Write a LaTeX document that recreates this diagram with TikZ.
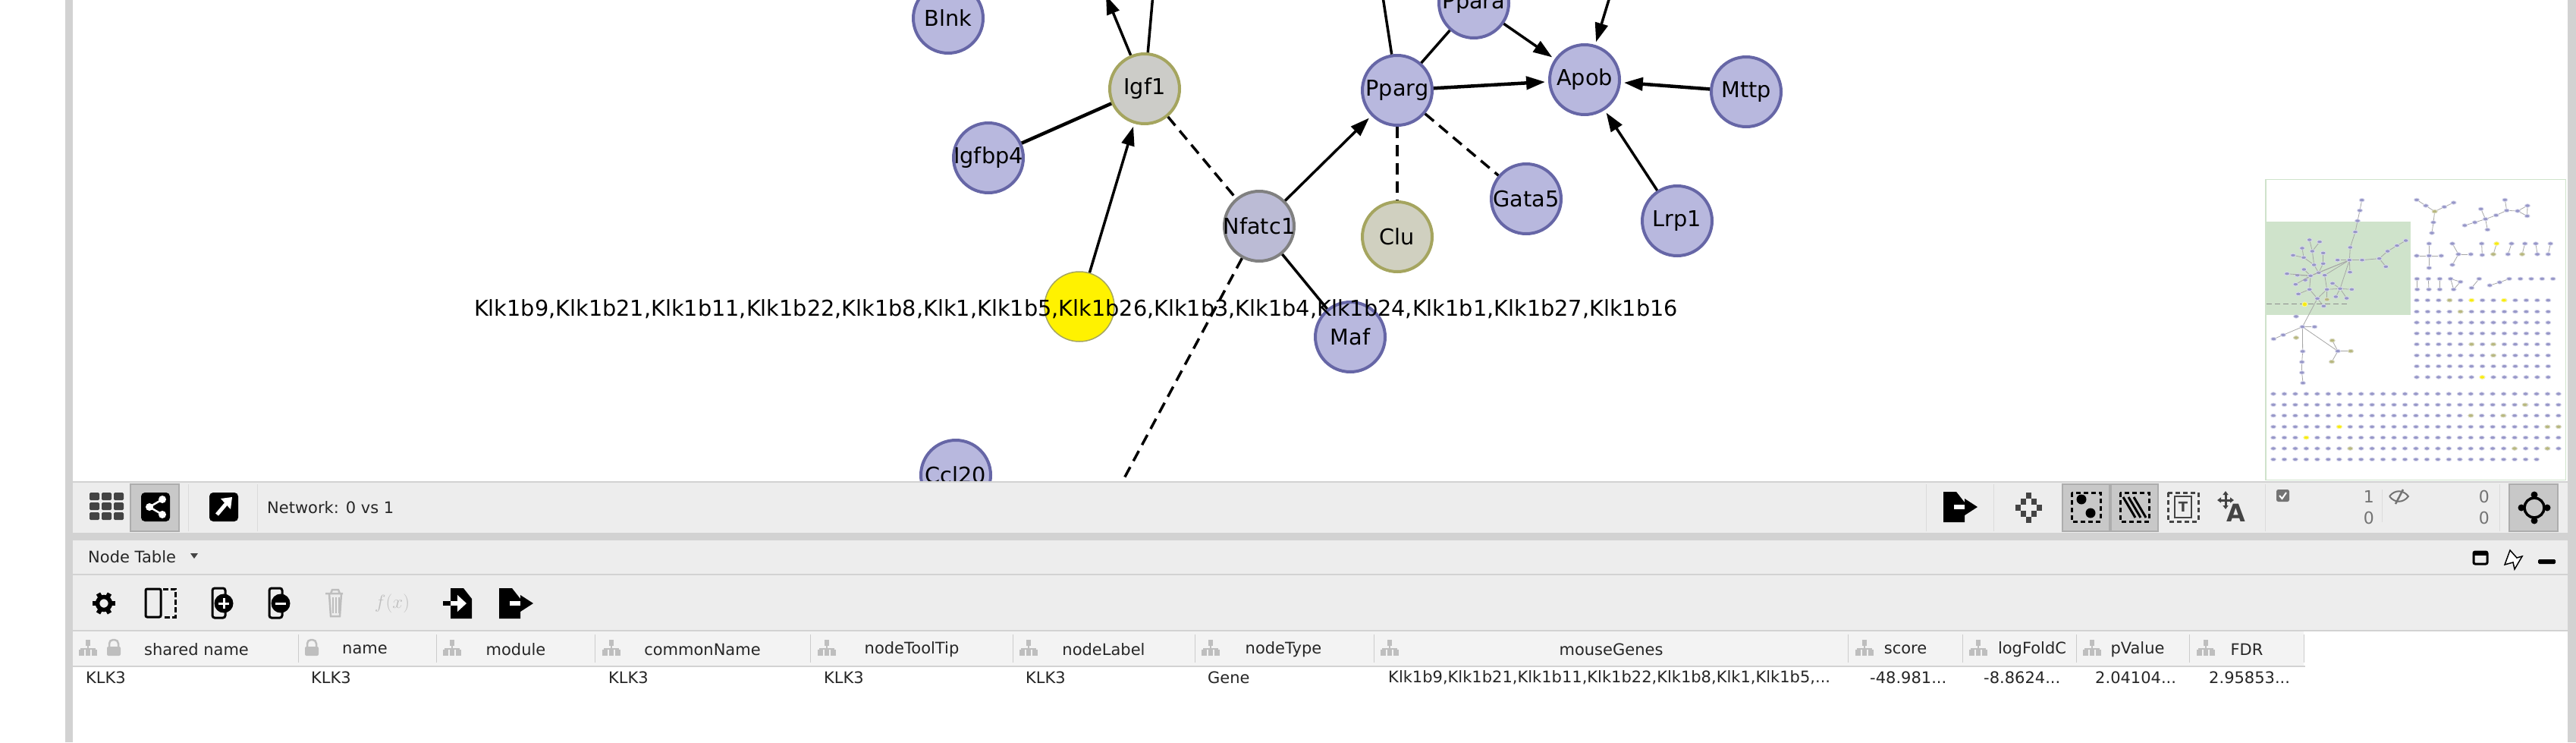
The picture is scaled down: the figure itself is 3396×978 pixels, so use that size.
\documentclass[tikz,border=0pt]{standalone}
\usepackage{fontspec}
\setmainfont{DejaVu Sans}
\definecolor{genefill}{RGB}{184, 184, 222}
\definecolor{genedraw}{RGB}{102, 102, 166}
\definecolor{olivedraw}{RGB}{165, 165, 95}
\definecolor{panelgris}{RGB}{237, 237, 237}
\definecolor{linegris}{RGB}{210, 210, 210}
\definecolor{btngris}{RGB}{200, 200, 200}
\definecolor{headgris}{RGB}{243, 243, 243}
\definecolor{icongris}{RGB}{68, 68, 68}
\definecolor{paleicon}{RGB}{190, 190, 190}
\definecolor{mapgreen}{RGB}{207, 227, 203}
\usetikzlibrary{arrows.meta, shapes.geometric}

\begin{document}
\begin{tikzpicture}[x=1pt, y=-1pt,
  gene/.style={circle, draw=genedraw, fill=genefill, line width=4pt, minimum size=92pt, inner sep=-12pt, font=\fontsize{28.75}{30}\selectfont},
  tiltgene/.style={gene, draw=olivedraw, fill={rgb,255:red,204;green,204;blue,200}},
  clugene/.style={gene, draw=olivedraw, fill={rgb,255:red,208;green,208;blue,192}},
  hitgene/.style={gene, draw=olivedraw, fill=yellow, line width=1.5pt},
  link/.style={line width=3.5pt},
  heavy/.style={line width=4.5pt},
  dashline/.style={line width=3.5pt, dash pattern=on 15pt off 9pt},
  arrow/.style={-{Triangle[length=25pt,width=17pt]}, shorten >=4pt},
  ui/.style={font=\fontsize{21}{24}\selectfont, inner sep=0pt, anchor=west, text=black!85},
  colhead/.style={ui, anchor=center},
  counter/.style={font=\fontsize{22}{24}\selectfont, inner sep=0pt, anchor=east, text=black!55},
  btn/.style={fill=btngris, draw=black!32, line width=1.5pt},
  barsep/.style={draw=black!14, line width=1pt},
  mini/.style={ellipse, fill=genefill!60!genedraw, draw=genefill!50, line width=0.8pt, minimum width=7pt, minimum height=4.5pt, inner sep=0pt},
  minihit/.style={mini, fill=yellow!90!olivedraw, draw=yellow!40},
  miniolive/.style={mini, fill=olivedraw!80, draw=olivedraw!35},
  minilink/.style={draw=black!35, line width=0.8pt},
  hier/.pic={
    \fill[paleicon] (-3,-11) rectangle (3,-3);
    \fill[paleicon] (-1,-3) rectangle (1,1);
    \fill[paleicon] (-10,0) rectangle (10,2);
    \fill[paleicon] (-12,2) rectangle (-5,10);
    \fill[paleicon] (-3,2) rectangle (3,10);
    \fill[paleicon] (5,2) rectangle (12,10);
  },
  lockicon/.pic={
    \fill[paleicon, rounded corners=2pt] (-9,-2) rectangle (9,10);
    \draw[paleicon, line width=2.5pt, rounded corners=5pt] (-6,-2) -- (-6,-11) -- (6,-11) -- (6,-2);
  },
  fileicon/.pic={
    \fill (-14,-20) -- (3,-20) -- (14,-6) -- (14,20) -- (-14,20) -- cycle;
  }
]
  \useasboundingbox (0,0) rectangle (3396,978);
  \clip (0,0) rectangle (3396,978);

  % network
  \node[gene] (blnk) at (1250,24) {Blnk};
  \node[tiltgene] (igf1) at (1509,117) {Igf1};
  \node[gene] (igfbp4) at (1303,208) {Igfbp4};
  \node[hitgene] (klk3) at (1423,404) {};
  \node[gene, draw=black!50, fill={rgb,255:red,187;green,187;blue,213}] (nfatc1) at (1660,298) {Nfatc1};
  \node[gene] (pparg) at (1842,119) {Pparg};
  \node[gene] (ppara) at (1943,4) {Ppara};
  \node[gene] (apob) at (2089,105) {Apob};
  \node[gene] (mttp) at (2302,121) {Mttp};
  \node[gene] (lrp1) at (2211,291) {Lrp1};
  \node[gene] (gata5) at (2012,262) {Gata5};
  \node[clugene] (clu) at (1842,312) {Clu};
  \node[gene] (maf) at (1780,444) {Maf};
  \node[gene] (ccl20) at (1260,626) {Ccl20};

  \coordinate (upblnk) at (1325,-25);
  \coordinate (upleft) at (1458,-6);
  \coordinate (upright) at (1522,-30);
  \coordinate (uppparg) at (1819,-30);
  \coordinate (upapob) at (2130,-30);
  \coordinate (downnfat) at (1466,660);

  \draw[link, arrow] (upblnk) -- (blnk);
  \draw[link, -{Triangle[length=25pt,width=17pt]}] (igf1) -- (upleft);
  \draw[link] (igf1) -- (upright);
  \draw[heavy] (igfbp4) -- (igf1);
  \draw[link, arrow] (klk3) -- (igf1);
  \draw[dashline] (igf1) -- (nfatc1);
  \draw[link, arrow] (nfatc1) -- (pparg);
  \draw[link] (pparg) -- (uppparg);
  \draw[link] (pparg) -- (ppara);
  \draw[link, arrow] (ppara) -- (apob);
  \draw[heavy, arrow] (pparg) -- (apob);
  \draw[link, arrow] (upapob) -- (apob);
  \draw[heavy, arrow] (mttp) -- (apob);
  \draw[link, arrow] (lrp1) -- (apob);
  \draw[dashline] (pparg) -- (gata5);
  \draw[dashline] (pparg) -- (clu);
  \draw[link] (nfatc1) -- (maf);
  \draw[dashline] (nfatc1) -- (downnfat);

  \node[inner sep=0pt, font=\fontsize{28.75}{30}\selectfont] (klklabel) at (1418.5,407) {Klk1b9,Klk1b21,Klk1b11,Klk1b22,Klk1b8,Klk1,Klk1b5,Klk1b26,Klk1b3,Klk1b4,Klk1b24,Klk1b1,Klk1b27,Klk1b16};

  % panels
  \fill[linegris] (86,0) rectangle (96,978);
  \fill[linegris] (3385,0) rectangle (3396,978);
  \fill[panelgris] (96,634) rectangle (3385,832);
  \fill[linegris] (96,634) rectangle (3385,636);
  \fill[linegris] (96,702) rectangle (3385,712);
  \fill[linegris] (96,756) rectangle (3385,758);
  \fill[linegris] (96,830) rectangle (3385,832);
  \fill[headgris] (96,832) rectangle (3037,877);
  \fill[linegris] (96,877) rectangle (3039,879);
  \fill[white] (96,879) rectangle (3385,978);

  % lower left toolbar
  \foreach \i in {0,1,2}
    \foreach \j in {0,1,2}
      \fill[icongris, rounded corners=1.5pt] (118+\i*16,649+\j*13) rectangle +(13,10);
  \draw[btn] (172,638) rectangle (236,700);
  \fill[rounded corners=5pt] (186,649) rectangle (224,687);
  \draw[white, line width=2.5pt] (214,658) -- (197,668) -- (214,678);
  \fill[white] (214,658) circle (5) (197,668) circle (5) (214,678) circle (5);
  \draw[barsep] (248,638) -- (248,700);
  \fill[rounded corners=5pt] (276,649) rectangle (314,687);
  \draw[white, line width=5pt] (286,678) -- (303,658);
  \fill[white] (291,657) -- (306,655) -- (304,671) -- cycle;
  \draw[barsep] (339,638) -- (339,700);
  \node[ui] (netname) at (352,669) {Network: 0 vs 1};

  % lower right toolbar
  \draw[barsep] (2539,638) -- (2539,700);
  \pic at (2576,668) {fileicon};
  \fill[white] (2576,665) rectangle (2590,671);
  \fill (2590,657) -- (2607,668) -- (2590,679) -- cycle;
  \draw[barsep] (2628,638) -- (2628,700);
  \foreach \dx/\dy in {0/-16,-7/-8,7/-8,-14/0,14/0,-7/8,7/8,0/16}
    \fill[icongris] (2674+\dx-3.5,669+\dy-4) rectangle +(7,8);
  \draw[btn] (2719,638) rectangle (2781,700);
  \draw[btn] (2783,638) rectangle (2845,700);
  \draw[line width=3pt, dash pattern=on 6pt off 4pt] (2731,649) rectangle (2769,687);
  \fill (2744,658) circle (6.5) (2756,676) circle (6.5);
  \draw[line width=3pt, dash pattern=on 6pt off 4pt] (2795,649) rectangle (2833,687);
  \foreach \dx in {-7,0,7}
    \draw[line width=3pt] (2806+\dx,655) -- (2822+\dx,682);
  \draw[icongris, line width=3pt, dash pattern=on 6pt off 4pt] (2858,649) rectangle (2898,687);
  \node[draw=icongris, line width=2pt, inner sep=1pt, minimum width=22pt, minimum height=28pt, font=\fontsize{18}{20}\selectfont\bfseries, text=icongris] (ticon) at (2878,668) {T};
  \node[inner sep=0pt, font=\fontsize{32}{32}\selectfont\bfseries, text=icongris] (aicon) at (2948,676) {A};
  \draw[icongris, line width=3pt, {Triangle[length=5pt,width=7pt]}-{Triangle[length=5pt,width=7pt]}] (2934,647) -- (2934,671);
  \draw[icongris, line width=3pt, {Triangle[length=5pt,width=7pt]}-{Triangle[length=5pt,width=7pt]}] (2923,659) -- (2945,659);
  \draw[barsep] (2986,638) -- (2986,700);
  \fill[black!55, rounded corners=2.5pt] (3001,645) rectangle (3018,661);
  \draw[white, line width=2pt] (3005,653) -- (3008.5,657) -- (3014,649);
  \node[counter] (selone) at (3130,654) {1};
  \node[counter] (selzero) at (3130,682) {0};
  \draw[barsep] (3140,645) -- (3140,688);
  \draw[black!55, line width=2pt] (3150,654) .. controls (3157,645) and (3168,645) .. (3175,654) .. controls (3168,663) and (3157,663) .. (3150,654);
  \draw[black!55, line width=2.5pt] (3168,645) -- (3158,664);
  \node[counter] (hidone) at (3282,654) {0};
  \node[counter] (hidzero) at (3282,682) {0};
  \draw[barsep] (3295,638) -- (3295,700);
  \draw[btn] (3308,638) rectangle (3372,700);
  \draw[line width=3.5pt] (3341,669) circle (13);
  \fill (3341,652) circle (4.5) (3341,686) circle (4.5) (3324,669) circle (4.5) (3358,669) circle (4.5);

  % node table bar
  \node[ui] (tabletitle) at (116,734) {Node Table};
  \fill[icongris] (251,729) -- (261,729) -- (256,736) -- cycle;
  \draw[line width=3pt, rounded corners=2pt] (3261,727) rectangle (3279,743);
  \fill (3261,727) rectangle (3279,732);
  \draw[line width=1.5pt, fill=white] (3309,725) -- (3318,735) -- (3325,733) -- (3315,750) -- (3313,741) -- (3302,744) -- cycle;
  \fill[rounded corners=1.5pt] (3346,737) rectangle (3369,743);

  % table icons
  \begin{scope}[shift={(137,795)}]
    \draw[line width=5.5pt] (0,0) circle (8.5);
    \foreach \a in {0,60,...,300}
      \draw[rotate=\a, line width=6pt] (9,0) -- (15,0);
  \end{scope}
  \draw[line width=3pt, rounded corners=2pt] (192,776) rectangle (212,813);
  \draw[line width=3pt, dash pattern=on 7pt off 3pt] (215,776) -- (231,776) -- (231,813) -- (215,813);
  \foreach \x in {295,370} {
    \draw[line width=3pt, rounded corners=3pt] (\x-15,775) rectangle (\x+2,814);
    \fill (\x,795) circle (12.5);
  }
  \draw[white, line width=3pt] (288,795) -- (302,795) (295,788) -- (295,802);
  \draw[white, line width=3pt] (363,795) -- (377,795);
  \draw[paleicon, line width=2.5pt] (429,782) -- (452,782) (434,782) -- (436,812) -- (448,812) -- (450,782) (436,782) -- (438,777) -- (446,777) -- (448,782);
  \draw[paleicon, line width=1.2pt] (439,787) -- (439,808) (443,787) -- (443,808) (447,787) -- (447,808);
  \node[inner sep=0pt, text=paleicon, font=\fontsize{28}{30}\selectfont\itshape] (fxicon) at (517,795) {$f(x)$};
  \pic at (608,795) {fileicon};
  \fill (584,792) rectangle (594,798);
  \fill[white] (594,792) rectangle (604,798);
  \fill[white] (603,784) -- (615,795) -- (603,806) -- cycle;
  \pic at (672,795) {fileicon};
  \fill[white] (672,792) rectangle (686,798);
  \fill (686,784) -- (703,795) -- (686,806) -- cycle;

  % column heads
  \foreach \x in {393,575,784,1068,1335,1575,1811,2436,2587,2737,2886,3037}
    \draw[barsep, draw=black!20] (\x,836) -- (\x,873);
  \foreach \x in {116,596,806,1090,1356,1596,1832,2458,2608,2758,2908}
    \pic at (\x,854) {hier};
  \pic at (150,854) {lockicon};
  \pic at (411,854) {lockicon};
  \node[colhead] (cshared) at (259,856) {shared name};
  \node[colhead] (cname) at (481,856) {name};
  \node[colhead] (cmodule) at (680,856) {module};
  \node[colhead] (ccommon) at (926,856) {commonName};
  \node[colhead] (ctip) at (1202,856) {nodeToolTip};
  \node[colhead] (clabel) at (1455,856) {nodeLabel};
  \node[colhead] (ctype) at (1692,856) {nodeType};
  \node[colhead] (cmouse) at (2124,856) {mouseGenes};
  \node[colhead] (cscore) at (2512,856) {score};
  \node[colhead] (cfold) at (2679,856) {logFoldC};
  \node[colhead] (cpval) at (2818,856) {pValue};
  \node[colhead] (cfdr) at (2962,856) {FDR};

  % table row
  \node[ui] (vshared) at (113,893) {KLK3};
  \node[ui] (vname) at (410,893) {KLK3};
  \node[ui] (vcommon) at (802,893) {KLK3};
  \node[ui] (vtip) at (1086,893) {KLK3};
  \node[ui] (vlabel) at (1352,893) {KLK3};
  \node[ui] (vtype) at (1592,893) {Gene};
  \node[ui] (vmouse) at (1830,893) {Klk1b9,Klk1b21,Klk1b11,Klk1b22,Klk1b8,Klk1,Klk1b5,...};
  \node[ui] (vscore) at (2465,893) {-48.981...};
  \node[ui] (vfold) at (2615,893) {-8.8624...};
  \node[ui] (vpval) at (2762,893) {2.04104...};
  \node[ui] (vfdr) at (2912,893) {2.95853...};

  % overview map
  \begin{scope}[shift={(2960,220)}, x=0.3333pt, y=-0.3333pt]
    \fill[white] (80,50) rectangle (1268,1238);
    \draw[mapgreen, line width=1.6pt] (80,50) rectangle (1268,1238);
    \fill[mapgreen] (82,216) rectangle (653,586);

    \foreach \n/\x/\y in {
      a/461/131, b/453/172, c/444/213, d/435/257, e/415/318, hub/412/368, f/365/368, g/462/368,
      h/530/362, i/563/333, j/600/311, k/635/291, l/556/394, m/414/416, n/375/481, o/421/484,
      p/323/484, q/345/460, r/358/513, s/401/519, t/322/524, u/314/428, v/285/520, w/254/484,
      x/210/502, y/258/430, z/290/418, aa/232/405, ab/206/428, ac/165/422, ad/237/447, ae/199/464,
      af/272/387, ag/308/382, ah/265/333, ai/254/288, aj/231/358, ak/225/321, al/189/349, am/294/296,
      an/308/340, ao/310/550, ap/201/591, aq/226/632, ar/274/632, as/150/664, at/112/680, au/201/675,
      av/227/729, aw/224/771, ax/224/813, ay/228/854, az/366/728, ba/344/686, bb/342/770, bc/417/728,
      bd/678/130, be/714/153, bf/749/176, bg/824/141, bh/787/158, bi/744/219, bj/738/261,
      bk/868/231, bl/908/219, bm/950/206, bn/992/191, bo/1034/172, bp/1077/174, bq/1116/153, br/1115/194,
      bs/1027/130, bt/932/166, bu/958/248, bv/727/303, bw/727/351, bx/727/399, by/678/351, bz/775/351,
      ca/819/303, cb/843/345, cc/819/387, cd/892/345, ce/935/303, cf/937/348, cg/981/345, ch/1053/303,
      ci/1039/345, cj/1106/303, ck/1095/345, cl/1149/303, cm/1155/345, cn/1207/303, co/1198/345, cp/994/303,
      cq/679/442, cr/680/484, cs/724/442, ct/726/484, cu/769/442, cv/769/484, cw/812/442, cx/851/454,
      cy/824/484, cz/925/442, da/895/478, db/967/468, dc/1006/456, dd/1044/442, de/1088/442, df/1131/442,
      dg/1174/442, dh/1217/442}
      \node[mini] (m\n) at (\x,\y) {};
    \foreach \a/\b in {
      a/b, b/c, c/d, d/e, e/hub, hub/f, hub/g, g/h, h/i, i/j, j/k, h/l, hub/m, hub/n, n/o, n/p, n/q, n/r, n/s,
      p/t, p/u, p/v, u/hub, z/hub, y/hub, v/w, w/x, w/y, y/z, y/aa, y/ab, y/ac, y/ad, y/ae, z/af, z/ag,
      af/ah, ah/ai, af/aj, aj/ak, aj/al, ah/am, ag/an, v/ao, v/aq, aq/ar, aq/as, as/at, aq/av, av/aw, aw/ax, ax/ay,
      aq/az, az/ba, az/bb, az/bc, bd/be, be/bf, bg/bh, bh/bf, bf/bi, bi/bj, bk/bl, bl/bm, bm/bn, bn/bo, bo/bp,
      bp/bq, bq/br, br/bp, bo/bs, bm/bt, bm/bu, bv/bw, bw/bx, by/bw, bw/bz, ca/cb, cb/cc, cb/cd, ce/cf, cp/cg,
      ch/ci, cj/ck, cl/cm, cn/co, cq/cr, cs/ct, cu/cv, cw/cx, cx/cy, cy/cw, cz/da, db/dc, dc/dd}
      \draw[minilink] (m\a) -- (m\b);
    \foreach \j/\y in {0/527,1/572,2/615,3/658,4/701,5/745,6/788,7/831}
      \foreach \i in {0,...,12}
        \node[mini] (up\i-\j) at (678+\i*43.33,\y) {};
    \foreach \j/\y in {0/897,1/940,2/983,3/1027,4/1070,5/1113}
      \foreach \i in {0,...,26}
        \node[mini] (lo\i-\j) at (111+\i*43.38,\y) {};
    \foreach \i in {0,...,24}
      \node[mini] (lo\i-6) at (111+\i*43.38,1156) {};
    \foreach \n/\x/\y in {ya/895/527, yb/1023/527, yc/937/831, yd/372/1027, ye/241/1070, yf/994/303}
      \node[minihit] (h\n) at (\x,\y) {};
    \foreach \n/\x/\y in {oa/808/527, ob/851/572, oc/895/701, od/981/701, oe/981/745, of/1106/940, og/892/983, oh/1020/983, oi/1195/1027, oj/1239/1027, ok/415/1113, ol/1065/1113, om/1195/1113, on/201/675, oo/323/524, op/749/176, oq/344/686, or/342/770, os/417/728, ot/981/345, ou/1095/345}
      \node[miniolive] (o\n) at (\x,\y) {};
    \coordinate (lblstart) at (85,543);
    \coordinate (lblend) at (402,543);
    \draw[black!45, line width=1pt, dash pattern=on 7pt off 4pt] (lblstart) -- (lblend);
    \node[minihit, minimum width=6.5pt, minimum height=6pt] (mklk) at (235,543) {};
  \end{scope}
\end{tikzpicture}
\end{document}
